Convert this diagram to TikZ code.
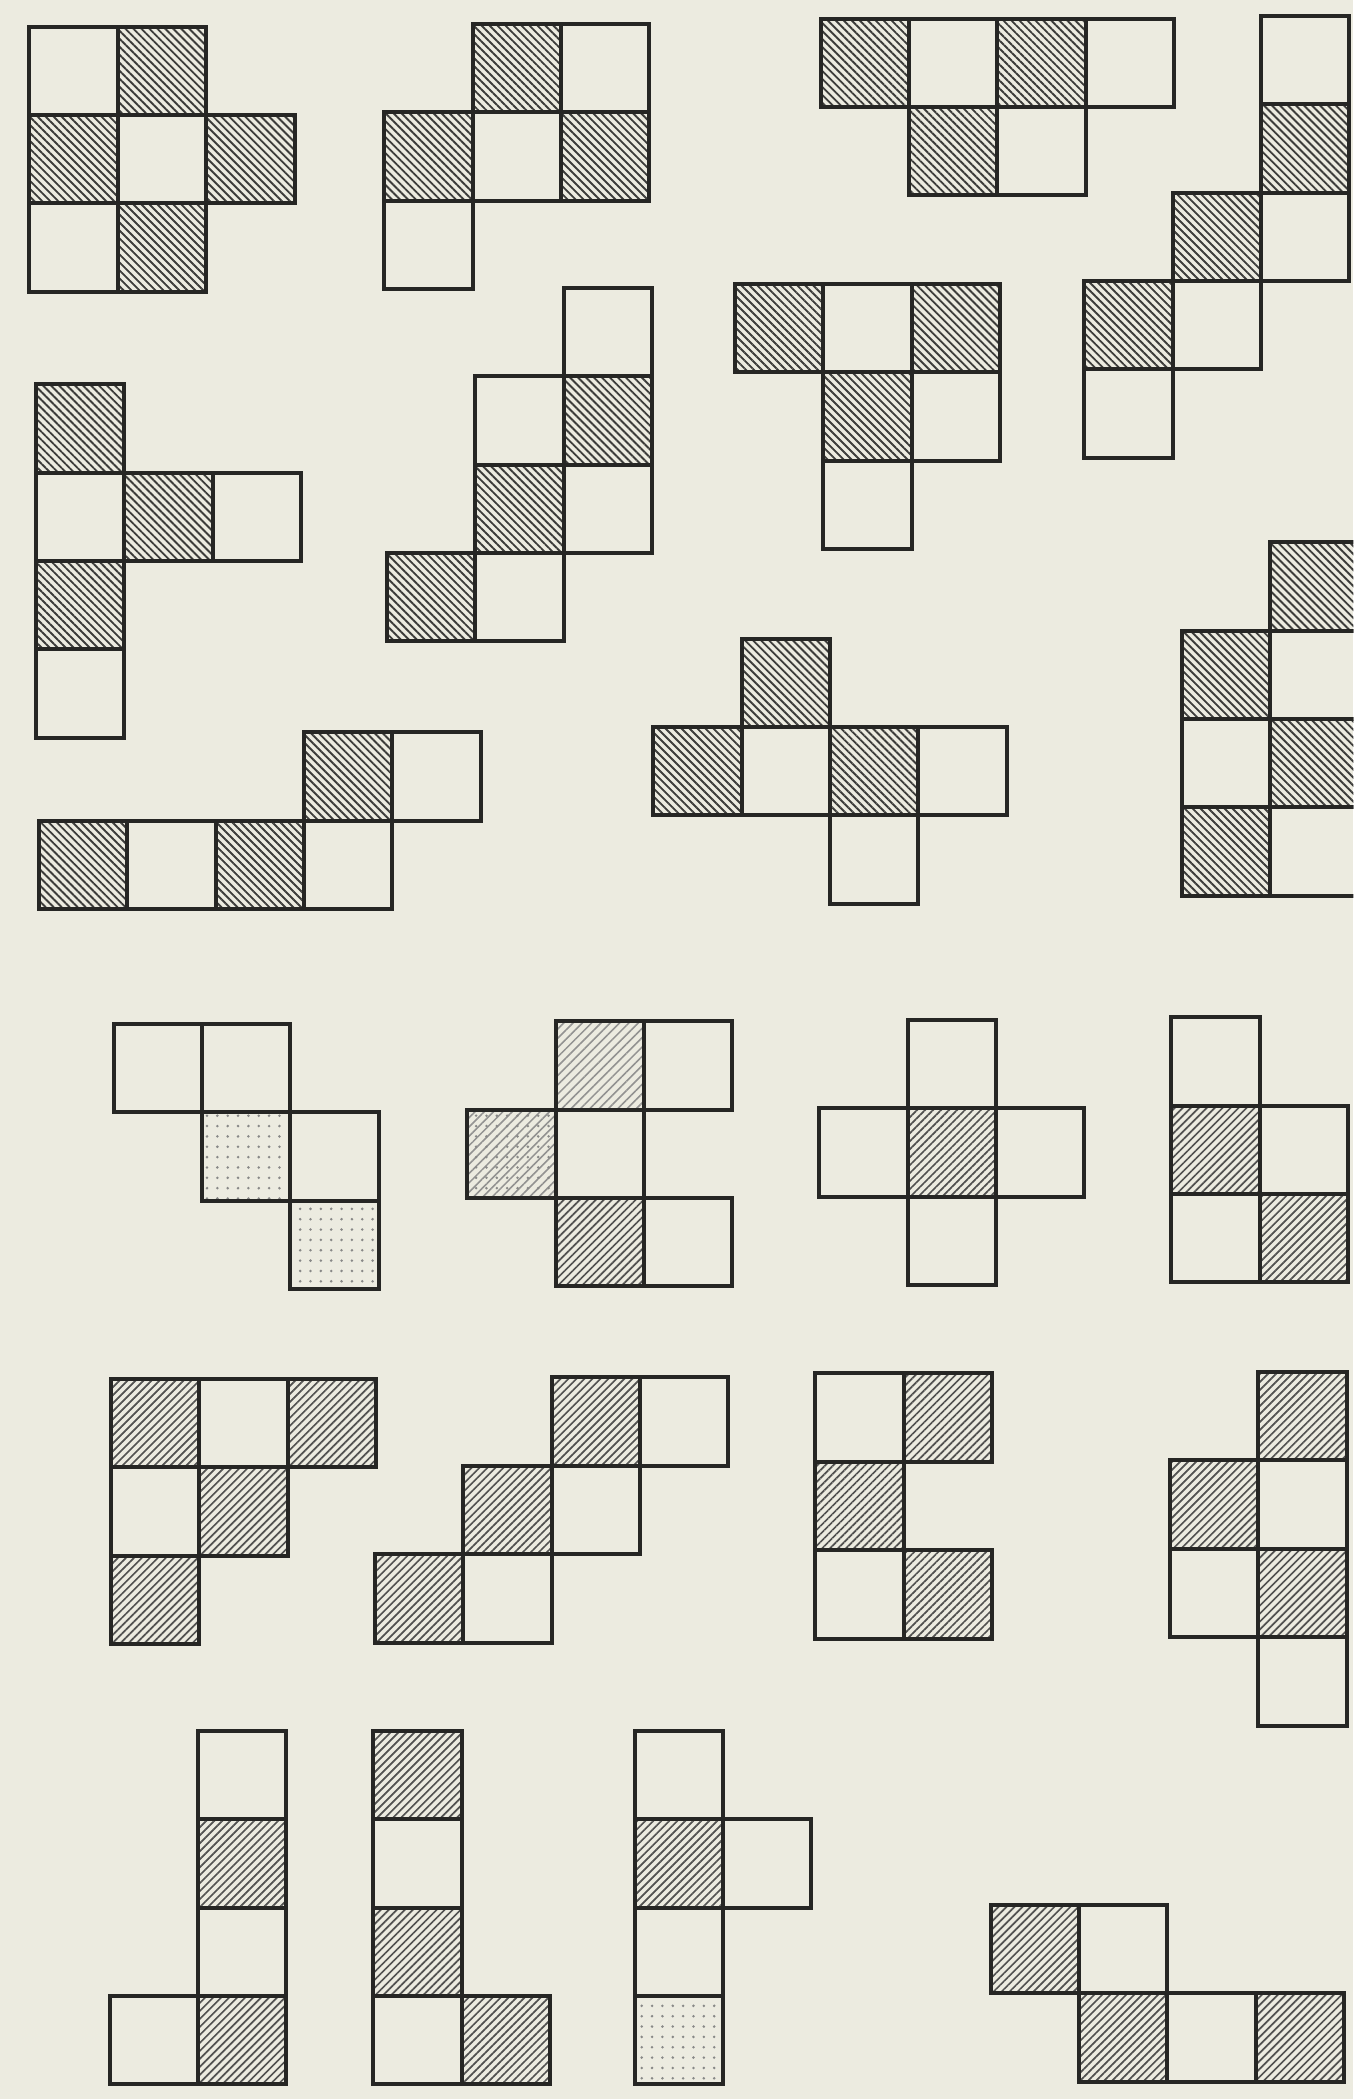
\documentclass[tikz,border=0pt]{standalone}
\usetikzlibrary{patterns.meta}
\definecolor{paper}{RGB}{236,235,224}
\definecolor{ink}{RGB}{38,38,36}
\newcommand{\piece}[3]{%
  \foreach \cx/\cy/\cs in {#3}{\path[\cs] ({#1+66*\cx},{#2+66*\cy}) rectangle ++(66,66);}
  \foreach \cx/\cy/\cs in {#3}{\draw[cell] ({#1+66*\cx},{#2+66*\cy}) rectangle ++(66,66);}}

\begin{document}
\begin{tikzpicture}[x=0.1mm,y=-0.1mm,
 cell/.style={draw=ink,line width=0.85pt,line join=miter},
 cw/.style={},
 hb/.style={pattern={Lines[angle=-45,distance=1.2pt,line width=0.4pt]},pattern color=ink!90},
 hf/.style={pattern={Lines[angle=45,distance=1.2pt,line width=0.36pt]},pattern color=ink!80},
 hl/.style={pattern={Lines[angle=45,distance=1.4pt,line width=0.33pt]},pattern color=ink!50},
 st/.style={pattern={Dots[distance=2.2pt,radius=0.3pt]},pattern color=ink!55}]
\useasboundingbox (0,0) rectangle (1011,1568);
\clip (0,0) rectangle (1011,1568);
\fill[paper] (0,0) rectangle (1011,1568);
% upper block
\piece{22}{20}{0/0/cw,1/0/hb,0/1/hb,1/1/cw,2/1/hb,0/2/cw,1/2/hb}
\piece{287}{18}{1/0/hb,2/0/cw,0/1/hb,1/1/cw,2/1/hb,0/2/cw}
\piece{613}{14}{0/0/hb,1/0/cw,2/0/hb,3/0/cw,1/1/hb,2/1/cw}
\piece{810}{12}{2/0/cw,2/1/hb,1/2/hb,2/2/cw,0/3/hb,1/3/cw,0/4/cw}
\piece{27}{287}{0/0/hb,0/1/cw,1/1/hb,2/1/cw,0/2/hb,0/3/cw}
\piece{289}{215}{2/0/cw,1/1/cw,2/1/hb,1/2/hb,2/2/cw,0/3/hb,1/3/cw}
\piece{549}{212}{0/0/hb,1/0/cw,2/0/hb,1/1/hb,2/1/cw,1/2/cw}
\piece{29}{547}{3/0/hb,4/0/cw,0/1/hb,1/1/cw,2/1/hb,3/1/cw}
\piece{488}{477}{1/0/hb,0/1/hb,1/1/cw,2/1/hb,3/1/cw,2/2/cw}
\piece{883}{405}{1/0/hb,0/1/hb,1/1/cw,0/2/cw,1/2/hb,0/3/hb,1/3/cw}
% lower block
\piece{85}{765}{0/0/cw,1/0/cw,1/1/st,2/1/cw,2/2/st}
\piece{349}{763}{1/0/hl,2/0/cw,0/1/hl,0/1/st,1/1/cw,1/2/hf,2/2/cw}
\piece{612}{762}{1/0/cw,0/1/cw,1/1/hf,2/1/cw,1/2/cw}
\piece{875}{760}{0/0/cw,0/1/hf,1/1/cw,0/2/cw,1/2/hf}
\piece{83}{1030}{0/0/hf,1/0/cw,2/0/hf,0/1/cw,1/1/hf,0/2/hf}
\piece{280}{1029}{2/0/hf,3/0/cw,1/1/hf,2/1/cw,0/2/hf,1/2/cw}
\piece{609}{1026}{0/0/cw,1/0/hf,0/1/hf,0/2/cw,1/2/hf}
\piece{874}{1025}{1/0/hf,0/1/hf,1/1/cw,0/2/cw,1/2/hf,1/3/cw}
\piece{82}{1293}{1/0/cw,1/1/hf,1/2/cw,0/3/cw,1/3/hf}
\piece{279}{1293}{0/0/hf,0/1/cw,0/2/hf,0/3/cw,1/3/hf}
\piece{474}{1293}{0/0/cw,0/1/hf,1/1/cw,0/2/cw,0/3/st}
\piece{740}{1423}{0/0/hf,1/0/cw,1/1/hf,2/1/cw,3/1/hf}
\end{tikzpicture}
\end{document}
